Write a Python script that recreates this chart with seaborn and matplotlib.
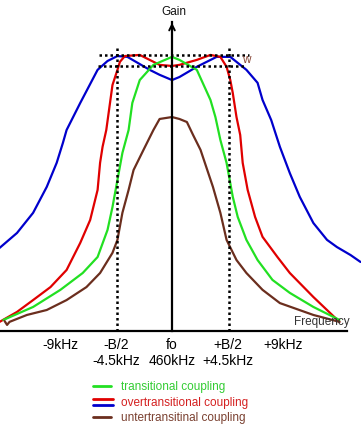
import matplotlib
matplotlib.use("Agg")
import matplotlib.pyplot as plt
import seaborn as sns
import pandas as pd
from matplotlib.lines import Line2D
from matplotlib.legend_handler import HandlerBase

# frequency offset from fo in kHz, gain relative to the top dotted line
blue_khz = [-13.9, -12.5, -11.2, -10.1, -9.3, -8.8, -8.5, -7.4, -6.0, -5.2, -4.4, -3.6, -1.8, -1.0, 0.0,
            0.6, 2.0, 3.6, 4.7, 6.0, 6.9, 7.3, 8.0, 8.7, 9.5, 10.3, 11.4, 12.5, 13.3, 14.4, 15.2]
blue_gain = [0.301, 0.355, 0.428, 0.522, 0.609, 0.681, 0.728, 0.826, 0.946, 0.978, 0.996, 0.993, 0.946, 0.928, 0.909,
             0.920, 0.957, 0.993, 0.993, 0.946, 0.899, 0.837, 0.764, 0.667, 0.572, 0.486, 0.391, 0.330, 0.304, 0.275, 0.250]

red_khz = [-13.9, -12.5, -11.2, -9.8, -8.5, -7.4, -6.6, -6.0, -5.8, -5.6, -5.3, -5.0, -4.8, -4.4, -4.2, -3.8, -2.6,
           -1.8, -1.0, 0.0, 0.6, 2.0, 3.1, 3.9, 4.4, 4.7, 4.9, 5.2, 5.5, 5.7, 6.1, 6.7, 7.3, 8.5, 9.5, 11.4, 13.5]
red_gain = [0.033, 0.069, 0.112, 0.159, 0.221, 0.319, 0.402, 0.511, 0.609, 0.667, 0.728, 0.826, 0.891, 0.946, 0.975,
            0.996, 1.0, 0.982, 0.964, 0.960, 0.964, 0.982, 1.0, 0.993, 0.957, 0.909, 0.862, 0.775, 0.710, 0.609,
            0.511, 0.413, 0.341, 0.268, 0.210, 0.123, 0.033]

green_khz = [-13.6, -11.2, -9.0, -7.2, -6.0, -5.2, -4.8, -4.4, -4.0, -3.5, -3.2, -2.6, -1.5, 0.0,
             0.6, 2.0, 3.1, 3.5, 3.9, 4.4, 4.9, 5.3, 6.0, 6.9, 8.1, 9.5, 11.4, 13.5]
green_gain = [0.040, 0.087, 0.149, 0.210, 0.268, 0.366, 0.449, 0.547, 0.645, 0.728, 0.826, 0.909, 0.964, 0.993,
              0.982, 0.946, 0.837, 0.775, 0.692, 0.609, 0.486, 0.413, 0.330, 0.257, 0.185, 0.138, 0.087, 0.040]

brown_khz = [-13.5, -13.3, -13.1, -11.7, -10.1, -8.5, -6.9, -5.8, -4.8, -4.4, -4.0, -3.5, -3.1, -2.3, -1.9, -1.5,
             -1.0, 0.0, 0.6, 1.2, 1.7, 2.3, 3.3, 3.9, 4.4, 5.2, 6.0, 7.3, 8.7, 11.4, 13.5]
brown_gain = [0.036, 0.022, 0.033, 0.058, 0.076, 0.112, 0.159, 0.210, 0.283, 0.330, 0.428, 0.511, 0.583, 0.656,
              0.692, 0.728, 0.768, 0.775, 0.768, 0.757, 0.710, 0.656, 0.522, 0.428, 0.330, 0.257, 0.210, 0.149,
              0.101, 0.058, 0.033]

tick_khz = [-9, -4.5, 0, 4.5, 9]
tick_labels = ["-9kHz", "-B/2\n-4.5kHz", "fo\n460kHz", "+B/2\n+4.5kHz", "+9kHz"]
band_khz = [-4.45, 4.6]
ripple_gain = [1.0, 0.96]

legend_labels = ["transitional coupling", "overtransitional coupling", "untertransitinal coupling"]

c_green, c_red, c_blue, c_brown = "#22e022", "#e00000", "#0000cc", "#6b2e1e"
t_green, t_red, t_brown = "#33cc33", "#d42020", "#7a4030"

sns.set_theme(style="white")
plt.rcParams['font.family'] = ['Liberation Sans', 'DejaVu Sans']

fig = plt.figure(figsize=(3.61, 4.32), dpi=100)
ax = fig.add_axes([0, 0, 1, 1])

curves = [(blue_khz, blue_gain, c_blue), (red_khz, red_gain, c_red),
          (green_khz, green_gain, c_green), (brown_khz, brown_gain, c_brown)]
for xs, ys, col in curves:
    df = pd.DataFrame({'kHz': xs, 'gain': ys})
    sns.lineplot(data=df, x='kHz', y='gain', ax=ax, color=col, lw=1.6, sort=False,
                 solid_joinstyle='round')

# dotted guides
ax.hlines(ripple_gain[0], -5.9, 6.2, colors='black', lw=1.8, linestyles=(0, (1, 1.2)))
ax.hlines(ripple_gain[1], -6.0, 6.0, colors='black', lw=1.8, linestyles=(0, (1, 1.2)))
ax.vlines(band_khz, 0, 1.025, colors='black', lw=1.8, linestyles=(0, (1, 1.2)))

ax.set_xlim(-13.87, 15.24)
ax.set_ylim(-0.366, 1.199)
ax.set_xlabel('')
ax.set_ylabel('')

# axes through the origin
for s in ['top', 'right']:
    ax.spines[s].set_visible(False)
ax.spines['bottom'].set_position(('data', 0))
ax.spines['bottom'].set_bounds(-13.87, 14.1)
ax.spines['left'].set_position(('data', 0))
ax.spines['left'].set_bounds(0, 1.12)
for s in ['bottom', 'left']:
    ax.spines[s].set_color('black')
    ax.spines[s].set_linewidth(1.6)
ax.annotate('', xy=(0, 1.127), xytext=(0, 1.08),
            arrowprops=dict(arrowstyle='->', lw=1.4, color='black', mutation_scale=10))

ax.set_yticks([])
ax.set_xticks(tick_khz)
ax.set_xticklabels(tick_labels, fontsize=10, linespacing=1.15)
ax.tick_params(axis='x', direction='inout', length=8, width=1.5, colors='black', pad=1)
ax.xaxis.get_major_ticks()[2].tick1line.set_visible(False)

ax.text(0.15, 1.156, 'Gain', ha='center', va='center', fontsize=8.5, color='#111111')
ax.text(12.1, 0.031, 'Frequency', ha='center', va='center', fontsize=8.5, color='#333333')
ax.text(6.0, 0.982, 'w', ha='center', va='center', fontsize=8.5, color='#8b4a3a')


class DoubleLine(HandlerBase):
    def create_artists(self, legend, orig_handle, xdescent, ydescent, width, height, fontsize, trans):
        arts = []
        for i, h in enumerate(orig_handle):
            y = height / 2 + 1.8 - 4.4 * i
            ln = Line2D([-xdescent, width - xdescent + 2], [y, y], color=h.get_color(), lw=h.get_linewidth())
            ln.set_transform(trans)
            arts.append(ln)
        return arts


handles = [Line2D([], [], color=c_green, lw=2),
           (Line2D([], [], color=c_red, lw=2), Line2D([], [], color=c_blue, lw=2)),
           Line2D([], [], color=c_brown, lw=2)]
leg = ax.legend(handles, legend_labels, handler_map={tuple: DoubleLine()},
                loc='upper left', bbox_to_anchor=(93 / 361, 1 - 381 / 432), frameon=False,
                fontsize=8.5, handlelength=1.5, handletextpad=0.85, labelspacing=0.3,
                borderpad=0, borderaxespad=0)
for txt, col in zip(leg.get_texts(), [t_green, t_red, t_brown]):
    txt.set_color(col)

fig.savefig('out.png', dpi=100)
